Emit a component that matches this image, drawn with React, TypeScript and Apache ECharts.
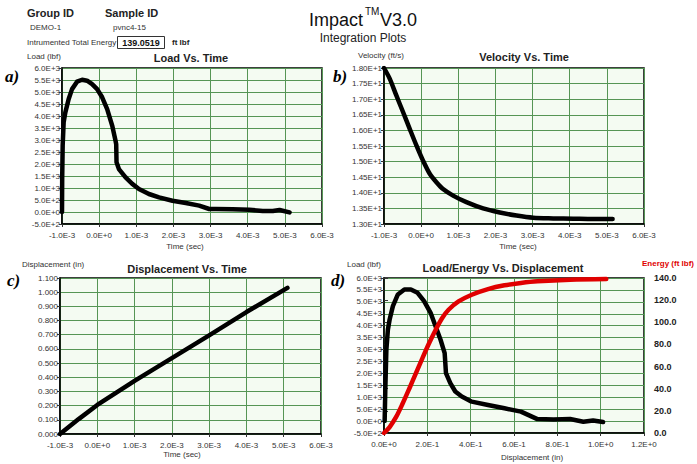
import React, { useEffect, useRef } from "react";
import * as echarts from "echarts";

// ---- data ----
const timeA = [-0.001, -0.000995, -0.000982, -0.000955, -0.00091, -0.00082, -0.00073, -0.000595, -0.000459, -0.000324, -0.000189, -0.000054, 0.000081, 0.000216, 0.000351, 0.000441, 0.000459, 0.000468, 0.000532, 0.000712, 0.000892, 0.001072, 0.001342, 0.001613, 0.001973, 0.002333, 0.002694, 0.002964, 0.003144, 0.003595, 0.004045, 0.004405, 0.004676, 0.004856, 0.005126];
const loadA = [0, 1400, 2760, 3740, 4150, 4710, 5120, 5430, 5510, 5470, 5330, 5120, 4780, 4290, 3600, 2970, 2830, 2070, 1790, 1440, 1170, 960, 750, 610, 470, 375, 265, 125, 125, 110, 95, 40, 40, 85, -15];

const timeB = [-0.001, -0.000847, -0.000668, -0.000488, -0.000308, -0.000128, 0.000051, 0.000231, 0.000411, 0.00059, 0.00086, 0.001219, 0.001668, 0.002118, 0.002567, 0.003016, 0.003556, 0.004094, 0.004634, 0.005155];
const velB = [18.0, 17.66, 17.12, 16.59, 16.05, 15.52, 15.03, 14.61, 14.34, 14.12, 13.91, 13.7, 13.5, 13.37, 13.27, 13.2, 13.18, 13.17, 13.16, 13.16];

const timeC = [-0.001, -0.0005, 0, 0.001, 0.002, 0.003, 0.004, 0.0051];
const dispC = [0, 0.105, 0.205, 0.375, 0.535, 0.695, 0.86, 1.03];

const dispD = [0.003, 0.006, 0.011, 0.018, 0.026, 0.041, 0.064, 0.094, 0.124, 0.155, 0.185, 0.215, 0.238, 0.261, 0.28, 0.283, 0.286, 0.306, 0.329, 0.359, 0.405, 0.48, 0.556, 0.632, 0.708, 0.783, 0.859, 0.92, 0.965, 1.011];
const loadD = [0, 1300, 3000, 3840, 4260, 4820, 5310, 5520, 5520, 5380, 5030, 4540, 3975, 3410, 2850, 2430, 2010, 1590, 1240, 1030, 815, 675, 535, 395, 84, 70, 84, -28, 28, -42];

const dispE = [0, 0.026, 0.056, 0.086, 0.117, 0.147, 0.177, 0.208, 0.238, 0.268, 0.298, 0.344, 0.405, 0.48, 0.556, 0.632, 0.708, 0.859, 1.026];
const energyE = [0, 5.4, 14.5, 26.6, 40.2, 53.8, 67.4, 81, 93.1, 103.7, 111.3, 118.8, 124.9, 130, 133.4, 135.5, 137, 138.5, 139.1];

const plotTitles = ["Load Vs. Time", "Velocity Vs. Time", "Displacement Vs. Time", "Load/Energy Vs. Displacement"];
const totalEnergy = "139.0519";

const zip = (xs: number[], ys: number[]) => xs.map((x, i) => [x, ys[i]]);

const fmtE = (d: number) => (v: number) => {
  if (Math.abs(v) < 1e-12) v = 0;
  return v.toExponential(d).toUpperCase();
};

const FONT = "Liberation Sans";
const GRID_LINE = "#559555";

function xAxisCfg(gridIndex: number, min: number, max: number, interval: number, fmt: (v: number) => string) {
  return {
    type: "value",
    gridIndex,
    min,
    max,
    interval,
    axisLine: { show: true, onZero: false, lineStyle: { color: "#000", width: 1.5 } },
    axisTick: { show: true, length: 3, lineStyle: { color: "#333" } },
    axisLabel: { fontFamily: FONT, fontSize: 8, color: "#333", margin: 7, formatter: fmt, showMinLabel: true, showMaxLabel: true },
    splitLine: { show: true, lineStyle: { color: GRID_LINE, width: 1 } },
  };
}
function yAxisCfg(gridIndex: number, min: number, max: number, interval: number, fmt: (v: number) => string) {
  return {
    type: "value",
    gridIndex,
    min,
    max,
    interval,
    axisLine: { show: true, onZero: false, lineStyle: { color: "#000", width: 1.5 } },
    axisTick: { show: true, length: 3, lineStyle: { color: "#333" } },
    axisLabel: { fontFamily: FONT, fontSize: 8, color: "#333", margin: 2, formatter: fmt, showMinLabel: true, showMaxLabel: true },
    splitLine: { show: true, lineStyle: { color: GRID_LINE, width: 1 } },
  };
}

function txt(x: number, y: number, text: string, o: any = {}) {
  return {
    type: "text",
    x,
    y,
    silent: true,
    style: {
      text,
      fontFamily: o.family || FONT,
      fontSize: o.size || 8,
      fontWeight: o.weight || "normal",
      fontStyle: o.style || "normal",
      fill: o.color || "#333",
      textAlign: o.align || "left",
      textVerticalAlign: "middle",
    },
  };
}

export default function App() {
  const ref = useRef<HTMLDivElement>(null);
  useEffect(() => {
    if (!ref.current) return;
    const chart = echarts.init(ref.current, null, { renderer: "svg" });
    const gridBase = { show: true, backgroundColor: "#f4fbf2", borderColor: "#000", borderWidth: 1.5, containLabel: false, outerBoundsMode: "none" };
    const lineBlack = { type: "line", showSymbol: false, symbol: "none", lineStyle: { color: "#000", width: 4.5, cap: "round", join: "round" }, silent: true };
    chart.setOption({
      animation: false,
      backgroundColor: "#fff",
      grid: [
        { ...gridBase, left: 62, top: 68, width: 260, height: 156 },
        { ...gridBase, left: 384, top: 68, width: 260, height: 156 },
        { ...gridBase, left: 60, top: 278, width: 261, height: 156 },
        { ...gridBase, left: 384, top: 278, width: 260, height: 155 },
      ],
      xAxis: [
        xAxisCfg(0, -0.001, 0.006, 0.001, fmtE(1)),
        xAxisCfg(1, -0.001, 0.006, 0.001, fmtE(1)),
        xAxisCfg(2, -0.001, 0.006, 0.001, fmtE(1)),
        xAxisCfg(3, 0, 1.2, 0.2, fmtE(1)),
      ],
      yAxis: [
        yAxisCfg(0, -500, 6000, 500, fmtE(1)),
        yAxisCfg(1, 13, 18, 0.5, fmtE(2)),
        yAxisCfg(2, 0, 1.1, 0.1, (v: number) => v.toFixed(3)),
        yAxisCfg(3, -500, 6000, 500, fmtE(1)),
        {
          type: "value",
          gridIndex: 3,
          position: "right",
          offset: 3,
          min: 0,
          max: 140,
          interval: 20,
          axisLine: { show: false },
          axisTick: { show: true, length: 4, lineStyle: { color: "#333" } },
          axisLabel: { fontFamily: FONT, fontSize: 9, fontWeight: "bold", color: "#222", margin: 7, formatter: (v: number) => v.toFixed(1) },
          splitLine: { show: false },
        },
      ],
      series: [
        { ...lineBlack, xAxisIndex: 0, yAxisIndex: 0, data: zip(timeA, loadA) },
        { ...lineBlack, xAxisIndex: 1, yAxisIndex: 1, smooth: 0.3, data: zip(timeB, velB) },
        { ...lineBlack, xAxisIndex: 2, yAxisIndex: 2, data: zip(timeC, dispC) },
        { ...lineBlack, xAxisIndex: 3, yAxisIndex: 3, data: zip(dispD, loadD) },
        { ...lineBlack, xAxisIndex: 3, yAxisIndex: 4, smooth: 0.3, lineStyle: { color: "#e00000", width: 4.5, cap: "round", join: "round" }, data: zip(dispE, energyE) },
      ],
      graphic: [
        // header
        txt(27, 13, "Group ID", { size: 11, weight: "bold", color: "#222" }),
        txt(105, 13, "Sample ID", { size: 11, weight: "bold", color: "#222" }),
        txt(30, 27, "DEMO-1", { size: 8 }),
        txt(113, 27, "pvnc4-15", { size: 8 }),
        txt(27, 42, "Intrumented Total Energy", { size: 8 }),
        { type: "rect", shape: { x: 117.5, y: 36.5, width: 47, height: 12 }, style: { fill: "#fff", stroke: "#333", lineWidth: 1 }, silent: true },
        txt(141, 42.5, totalEnergy, { size: 9, weight: "bold", color: "#111", align: "center" }),
        txt(172, 42.5, "ft lbf", { size: 8, weight: "bold", color: "#222" }),
        txt(309, 20, "Impact", { size: 18, color: "#111" }),
        txt(365, 11, "TM", { size: 10, color: "#111" }),
        txt(380, 20, "V3.0", { size: 18, color: "#111" }),
        txt(363, 38, "Integration Plots", { size: 12, color: "#222", align: "center" }),
        // plot titles
        txt(191, 58, plotTitles[0], { size: 11, weight: "bold", color: "#222", align: "center" }),
        txt(524, 57, plotTitles[1], { size: 11, weight: "bold", color: "#222", align: "center" }),
        txt(187, 269, plotTitles[2], { size: 11, weight: "bold", color: "#222", align: "center" }),
        txt(503, 268, plotTitles[3], { size: 11, weight: "bold", color: "#222", align: "center" }),
        // axis names
        txt(27, 56, "Load (lbf)", { size: 8 }),
        txt(358, 55, "Velocity (ft/s)", { size: 8 }),
        txt(22, 264, "Displacement (in)", { size: 8 }),
        txt(347, 264, "Load (lbf)", { size: 8 }),
        txt(642, 263, "Energy (ft lbf)", { size: 8, weight: "bold", color: "#e00000" }),
        txt(185, 246, "Time (sec)", { size: 8, align: "center" }),
        txt(518, 246, "Time (sec)", { size: 8, align: "center" }),
        txt(182, 454, "Time (sec)", { size: 8, align: "center" }),
        txt(532, 457, "Displacement (in)", { size: 8, align: "center" }),
        // panel letters
        txt(5, 76, "a)", { size: 17, weight: "bold", style: "italic", family: "Liberation Serif", color: "#000" }),
        txt(333, 76, "b)", { size: 17, weight: "bold", style: "italic", family: "Liberation Serif", color: "#000" }),
        txt(7, 280, "c)", { size: 17, weight: "bold", style: "italic", family: "Liberation Serif", color: "#000" }),
        txt(331, 280, "d)", { size: 17, weight: "bold", style: "italic", family: "Liberation Serif", color: "#000" }),
      ],
    });
    return () => chart.dispose();
  }, []);
  return <div ref={ref} style={{ position: "absolute", left: 0, top: 0, width: 697, height: 464 }} />;
}
